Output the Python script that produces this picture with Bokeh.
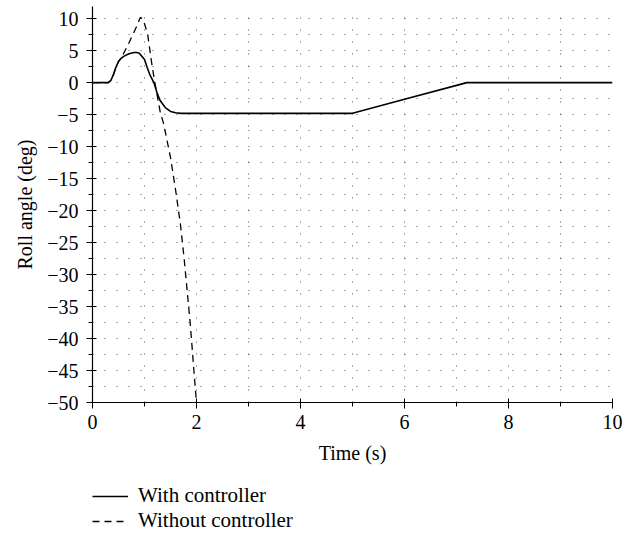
from bokeh.plotting import figure
from bokeh.models import FixedTicker, Legend, LegendItem, Range1d
from bokeh.layouts import column
from bokeh.embed import file_html
from bokeh.resources import INLINE

# Roll angle with controller
t_with = [0.0, 0.3, 0.35, 0.4, 0.45, 0.5, 0.55, 0.6, 0.7, 0.8, 0.85, 0.9, 1.0, 1.05,
          1.1, 1.18, 1.25, 1.3, 1.4, 1.5, 1.6, 1.7, 2.0, 3.0, 4.0, 5.0, 6.0, 7.2, 8.0, 10.0]
roll_with = [0.0, 0.0, 0.3, 1.2, 2.4, 3.3, 3.8, 4.1, 4.5, 4.7, 4.72, 4.6, 3.6, 2.4,
             1.3, 0.0, -1.8, -2.8, -3.9, -4.5, -4.7, -4.8, -4.8, -4.8, -4.8, -4.8, -2.6, 0.0, 0.0, 0.0]

# Roll angle without controller
t_without = [0.0, 0.3, 0.35, 0.4, 0.45, 0.5, 0.55, 0.7, 0.85, 0.92, 0.96, 1.0, 1.06, 1.15,
             1.2, 1.3, 1.37, 1.5, 1.6, 1.69, 1.76, 1.82, 1.88, 1.93, 1.98, 2.0]
roll_without = [0.0, 0.0, 0.3, 1.2, 2.4, 3.3, 3.8, 6.2, 8.8, 10.2, 10.0, 9.2, 7.6, 2.4,
                0.0, -4.5, -6.5, -11.7, -16.9, -22.1, -27.3, -32.5, -37.7, -42.9, -48.1, -50.0]

x_major = [0, 2, 4, 6, 8, 10]
x_minor = [1, 3, 5, 7, 9]
y_major = list(range(-50, 11, 5))
y_minor = [v + 2.5 for v in range(-50, 10, 5)]
x_label = "Time (s)"
y_label = "Roll angle (deg)"
series_names = ["With controller", "Without controller"]

FONT = "Liberation Serif"
SOLID = dict(line_color="black", line_width=1.6)
DASHED = dict(line_color="black", line_width=1.3, line_dash="7 5")

p = figure(width=637, height=470, output_backend="svg", toolbar_location=None,
           x_range=Range1d(0, 10), y_range=Range1d(-50, 11.9),
           min_border_left=92, min_border_right=25, min_border_top=6,
           min_border_bottom=68)
p.outline_line_color = None
p.background_fill_color = "white"

p.line(t_with, roll_with, **SOLID)
p.line(t_without, roll_without, **DASHED)

p.xaxis.ticker = FixedTicker(ticks=x_major, minor_ticks=x_minor)
p.yaxis.ticker = FixedTicker(ticks=y_major, minor_ticks=y_minor)
p.yaxis.major_label_overrides = {v: str(v).replace("-", "\u2212") for v in y_major}
p.xaxis.major_label_overrides = {v: str(v) for v in x_major}

p.xgrid.ticker = FixedTicker(ticks=x_major + x_minor)
p.ygrid.ticker = FixedTicker(ticks=y_major + y_minor)
for g in (p.xgrid, p.ygrid):
    g.grid_line_color = "#555555"
    g.grid_line_dash = "1 11"
    g.grid_line_width = 1

for ax in (p.xaxis, p.yaxis):
    ax.axis_line_color = "black"
    ax.axis_line_width = 1.2
    ax.major_tick_line_color = "black"
    ax.minor_tick_line_color = "black"
    ax.major_tick_in = 4
    ax.major_tick_out = 6
    ax.minor_tick_in = 0
    ax.minor_tick_out = 4
    ax.major_label_text_font = FONT
    ax.major_label_text_font_size = "20px"
    ax.major_label_text_color = "black"
    ax.axis_label_text_font = FONT
    ax.axis_label_text_font_size = "20px"
    ax.axis_label_text_font_style = "normal"
    ax.axis_label_text_color = "black"

p.xaxis.axis_label = x_label
p.yaxis.axis_label = y_label
p.xaxis.major_label_standoff = 6
p.yaxis.major_label_standoff = 8
p.xaxis.axis_label_standoff = 10
p.yaxis.axis_label_standoff = 8

# legend strip below the chart (sample lines lie outside the strip's visible range)
q = figure(width=637, height=64, output_backend="svg", toolbar_location=None,
           x_axis_type=None, y_axis_type=None,
           x_range=Range1d(0, 1), y_range=Range1d(0, 1),
           min_border_left=0, min_border_right=0, min_border_top=0, min_border_bottom=0)
q.outline_line_color = None
q.grid.visible = False
l1 = q.line([-3, -2], [-3, -3], **SOLID)
l2 = q.line([-3, -2], [-3, -3], **DASHED)

legend = Legend(items=[LegendItem(label=series_names[0], renderers=[l1]),
                       LegendItem(label=series_names[1], renderers=[l2])],
                location=(0, 1), orientation="vertical")
legend.border_line_color = None
legend.background_fill_alpha = 0
legend.padding = 0
legend.margin = 0
legend.spacing = 0
legend.label_height = 20
legend.glyph_height = 20
legend.glyph_width = 36
legend.label_standoff = 10
legend.label_text_font = FONT
legend.label_text_font_size = "21px"
legend.label_text_color = "black"
q.add_layout(legend)

layout = column(p, q, spacing=0)
open("out.html", "w").write(file_html(layout, INLINE))
